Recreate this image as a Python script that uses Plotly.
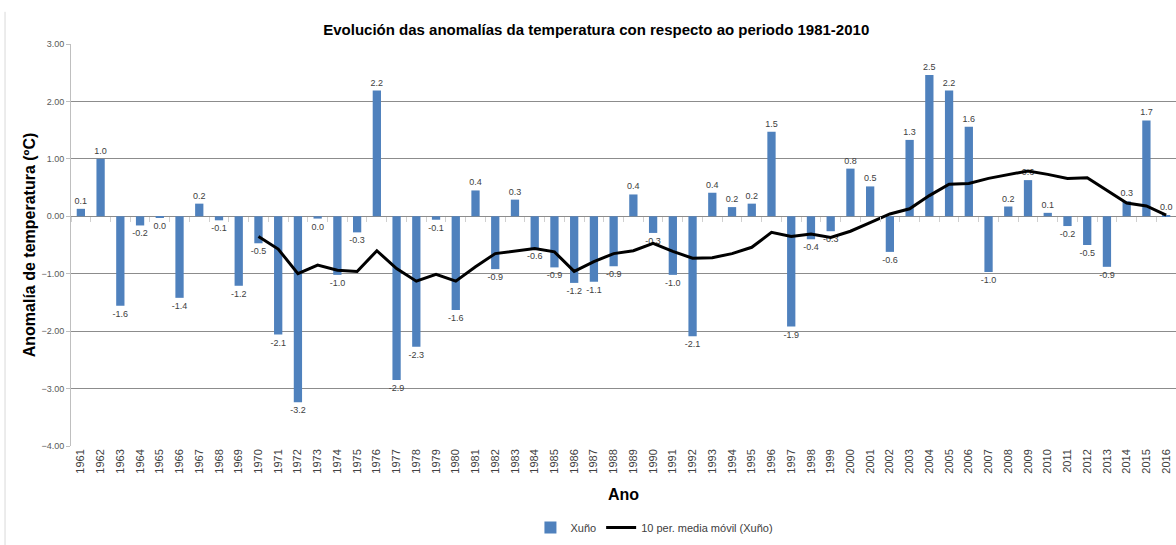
import plotly.graph_objects as go

years = [str(y) for y in range(1961, 2017)]
anomalies = [0.13, 1.00, -1.56, -0.16, -0.02, -1.42, 0.22, -0.07, -1.21, -0.47,
             -2.06, -3.24, -0.04, -1.02, -0.28, 2.19, -2.85, -2.27, -0.06, -1.63,
             0.45, -0.92, 0.29, -0.56, -0.89, -1.16, -1.14, -0.87, 0.38, -0.29,
             -1.02, -2.09, 0.41, 0.16, 0.22, 1.47, -1.92, -0.40, -0.26, 0.83,
             0.52, -0.62, 1.33, 2.46, 2.19, 1.56, -0.97, 0.17, 0.63, 0.06,
             -0.17, -0.50, -0.88, 0.26, 1.67, 0.02]
bar_labels = ["0.1", "1.0", "-1.6", "-0.2", "0.0", "-1.4", "0.2", "-0.1", "-1.2", "-0.5",
              "-2.1", "-3.2", "0.0", "-1.0", "-0.3", "2.2", "-2.9", "-2.3", "-0.1", "-1.6",
              "0.4", "-0.9", "0.3", "-0.6", "-0.9", "-1.2", "-1.1", "-0.9", "0.4", "-0.3",
              "-1.0", "-2.1", "0.4", "0.2", "0.2", "1.5", "-1.9", "-0.4", "-0.3", "0.8",
              "0.5", "-0.6", "1.3", "2.5", "2.2", "1.6", "-1.0", "0.2", "0.6", "0.1",
              "-0.2", "-0.5", "-0.9", "0.3", "1.7", "0.0"]
ma_years = [str(y) for y in range(1970, 2017)]
moving_avg = [-0.35, -0.57, -1.00, -0.85, -0.94, -0.96, -0.60, -0.91, -1.13, -1.01,
              -1.13, -0.88, -0.65, -0.61, -0.56, -0.62, -0.96, -0.79, -0.65, -0.60,
              -0.47, -0.61, -0.73, -0.72, -0.65, -0.54, -0.28, -0.35, -0.31, -0.37,
              -0.26, -0.11, 0.04, 0.13, 0.36, 0.56, 0.57, 0.66, 0.72, 0.79,
              0.73, 0.66, 0.67, 0.45, 0.23, 0.18, 0.02]
y_ticks = [3, 2, 1, 0, -1, -2, -3, -4]

fig = go.Figure()
fig.add_trace(go.Bar(
    x=years, y=anomalies, name="Xuño",
    marker=dict(color="#4F81BD", line=dict(width=0)),
    text=bar_labels, textposition="outside", cliponaxis=False,
    textfont=dict(family="Liberation Sans", size=9, color="#404040"),
    constraintext="none",
))
fig.add_trace(go.Scatter(
    x=ma_years, y=moving_avg, name="10 per. media móvil (Xuño)",
    mode="lines", line=dict(color="#000000", width=3),
    xaxis="x2",
))

fig.update_layout(
    width=1176, height=545,
    margin=dict(l=71, r=0, t=44, b=99),
    paper_bgcolor="white", plot_bgcolor="white",
    bargap=0.58,
    title=dict(text="<b>Evolución das anomalías da temperatura con respecto ao periodo 1981-2010</b>",
               x=0.507, xanchor="center", y=1 - 30 / 545, yanchor="middle",
               font=dict(family="Liberation Sans", size=15, color="#000000")),
    xaxis=dict(
        type="category", categoryorder="array", categoryarray=years,
        range=[-0.5, 55.5],
        tickangle=-90, showgrid=False, showline=False, ticks="", zeroline=False,
        tickfont=dict(family="Liberation Sans", size=11, color="#404040"),
        title=dict(text="<b>Ano</b>", font=dict(family="Liberation Sans", size=16, color="#000000"),
                   standoff=16),
    ),
    xaxis2=dict(
        type="category", categoryorder="array", categoryarray=years,
        range=[-0.5, 55.5], overlaying="x", anchor="free", position=4 / 7,
        showticklabels=False, showgrid=False, showline=False, zeroline=False,
        ticks="outside", tickson="boundaries", ticklen=5, tickcolor="#D0D0D0",
    ),
    yaxis=dict(
        range=[-4, 3], tickvals=y_ticks, tickformat=".2f",
        showgrid=True, gridcolor="#8C8C8C", gridwidth=1,
        zeroline=True, zerolinecolor="#8C8C8C", zerolinewidth=1,
        showline=True, linecolor="#BFBFBF", ticks="outside", ticklen=4, tickcolor="#BFBFBF",
        tickfont=dict(family="Liberation Sans", size=9, color="#595959"),
        title=dict(text="<b>Anomalía de temperatura (ºC)</b>",
                   font=dict(family="Liberation Sans", size=16, color="#000000"), standoff=1),
    ),
    legend=dict(orientation="h", x=0.528, xanchor="center", y=1 - 527.5 / 545, yref="container",
                yanchor="middle",
                font=dict(family="Liberation Sans", size=11, color="#404040"),
                itemwidth=30, tracegroupgap=0),
    showlegend=True,
)
fig.add_shape(type="line", xref="paper", yref="paper", x0=-0.0597, x1=-0.0597, y0=-0.25, y1=1.08,
              line=dict(color="#D9D9D9", width=1))

fig.write_html("out.html", config={"displayModeBar": False},
               post_script="document.body.style.margin='0';document.body.style.overflow='hidden';")
